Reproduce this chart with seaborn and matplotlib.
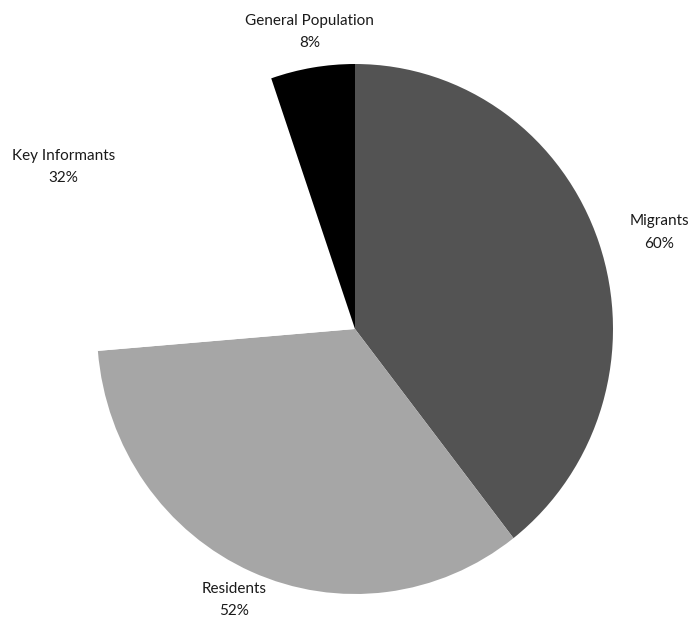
import matplotlib
matplotlib.use("Agg")
import matplotlib.pyplot as plt
import seaborn as sns
import numpy as np

categories = ["Migrants", "Residents", "Key Informants", "General Population"]
values = [60, 52, 32, 8]
pct_labels = ["60%", "52%", "32%", "8%"]
colors = ["#535353", "#a6a6a6", "#ffffff", "#000000"]

sns.set_theme(style="white")
plt.rcParams['font.family'] = ['Lato', 'DejaVu Sans']

W, H = 691, 619
fig = plt.figure(figsize=(W / 100, H / 100), dpi=100)
ax = fig.add_axes([0, 0, 1, 1])

# pixel geometry of the pie (slightly elliptical in the reference)
cx_px, cy_px, rx_px, ry_px = 355, 290, 258, 265

wedges, _ = ax.pie(values, colors=colors, startangle=90, counterclock=False,
                   center=(0, 0), radius=1, frame=True,
                   wedgeprops=dict(linewidth=0))
ax.set_aspect('auto')
ax.set_xlim(-cx_px / rx_px, (W - cx_px) / rx_px)
ax.set_ylim(-cy_px / ry_px, (H - cy_px) / ry_px)
ax.axis('off')

label_dist = [1.235, 1.126, 1.285, 1.135]
angle_off = [-1.8, -1.0, 4.8, -0.5]
for w, cat, p, d, off in zip(wedges, categories, pct_labels, label_dist, angle_off):
    mid = np.deg2rad((w.theta1 + w.theta2) / 2 + off)
    ax.text(d * np.cos(mid), d * np.sin(mid), f"{cat}\n{p}", ha='center',
            va='center', fontsize=11, color='#1a1a1a', linespacing=1.75)

fig.savefig("out.png", dpi=100)
